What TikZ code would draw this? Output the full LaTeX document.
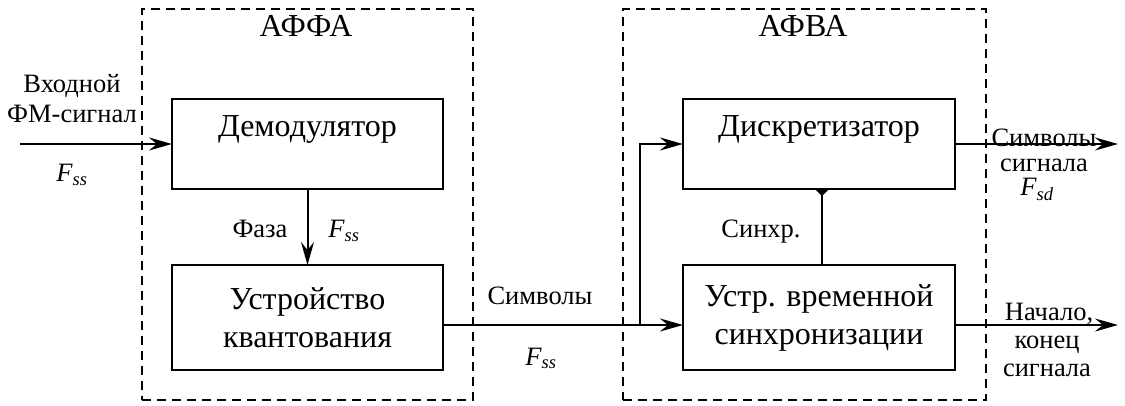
\documentclass[tikz,border=0pt]{standalone}
\usepackage{fontspec}
\setmainfont{Liberation Serif}
\usetikzlibrary{arrows.meta}
\newcommand\Fsx[1]{\textit{F}\textsubscript{\textit{#1}}}
\begin{document}
\begin{tikzpicture}[x=1pt,y=-1pt,
 box/.style={draw, line width=2pt, inner sep=0pt, outer sep=0pt, minimum width=271pt,
   font=\fontsize{32}{38}\selectfont, align=center},
 grp/.style={draw, line width=1.8pt, dash pattern=on 9pt off 6pt, inner sep=0pt, outer sep=0pt},
 ttl/.style={font=\fontsize{32}{38}\selectfont, anchor=base, inner sep=0pt},
 lbl/.style={font=\fontsize{26.5}{30}\selectfont, anchor=base, inner sep=0pt},
 arr/.style={line width=2pt, -{Stealth[length=23pt,width=13pt,inset=8pt]}},
 syn/.style={line width=2pt, -{Triangle[reversed,length=7pt,width=14pt]}},
]
\useasboundingbox (0,0) rectangle (1125,406);
% groups
\node[grp, minimum width=331pt, minimum height=391pt] (g1) at (307.5,204.5) {};
\node[grp, minimum width=363pt, minimum height=391pt] (g2) at (804.5,204.5) {};
\node[ttl] (t1) at (306,37) {АФФА};
\node[ttl] (t2) at (803,37) {АФВА};
% blocks
\node[box, minimum height=90pt] (demod) at (307.5,144) {};
\node[ttl] (demodt) at (307.5,137) {Демодулятор};
\node[box, minimum height=105pt] (quant) at (307.5,317.5) {Устройство\\квантования};
\node[box, minimum height=90pt, minimum width=272pt] (disc) at (819,144) {};
\node[ttl] (disct) at (819,137) {Дискретизатор};
\node[box, minimum height=105pt, minimum width=272pt] (sync) at (819,317.5) {Устр. временной\\синхронизации};
% coordinates
\coordinate (in) at (20,144);
\coordinate (j) at (640,325);
\coordinate (s) at (822,0);
\coordinate (o1) at (1118,144);
\coordinate (o2) at (1118,325);
% connectors
\draw[arr] (in) -- (demod.west);
\draw[arr] (demod.south) -- (quant.north);
\draw[line width=2pt] (quant.east |- j) -- (j);
\draw[arr] (j) -- (sync.west |- j);
\draw[arr] (j) |- (disc.west);
\draw[syn] (sync.north -| s) -- (disc.south -| s);
\draw[arr] (disc.east) -- (o1);
\draw[arr] (sync.east |- o2) -- (o2);
% labels
\node[lbl] (l1) at (72,93) {Входной};
\node[lbl] (l2) at (72,123) {ФМ-сигнал};
\node[lbl] (l3) at (72,182) {\Fsx{ss}};
\node[lbl] (l4) at (260,238) {Фаза};
\node[lbl] (l5) at (344,238) {\Fsx{ss}};
\node[lbl] (l6) at (761,238) {Синхр.};
\node[lbl] (l7) at (540,305) {Символы};
\node[lbl] (l8) at (541,365) {\Fsx{ss}};
\node[lbl] (l9) at (1044,147) {Символы};
\node[lbl] (l10) at (1044,172) {сигнала};
\node[lbl] (l11) at (1037,196) {\Fsx{sd}};
\node[lbl] (l12) at (1049,320) {Начало,};
\node[lbl] (l13) at (1047,348) {конец};
\node[lbl] (l14) at (1047,376) {сигнала};
\end{tikzpicture}
\end{document}
